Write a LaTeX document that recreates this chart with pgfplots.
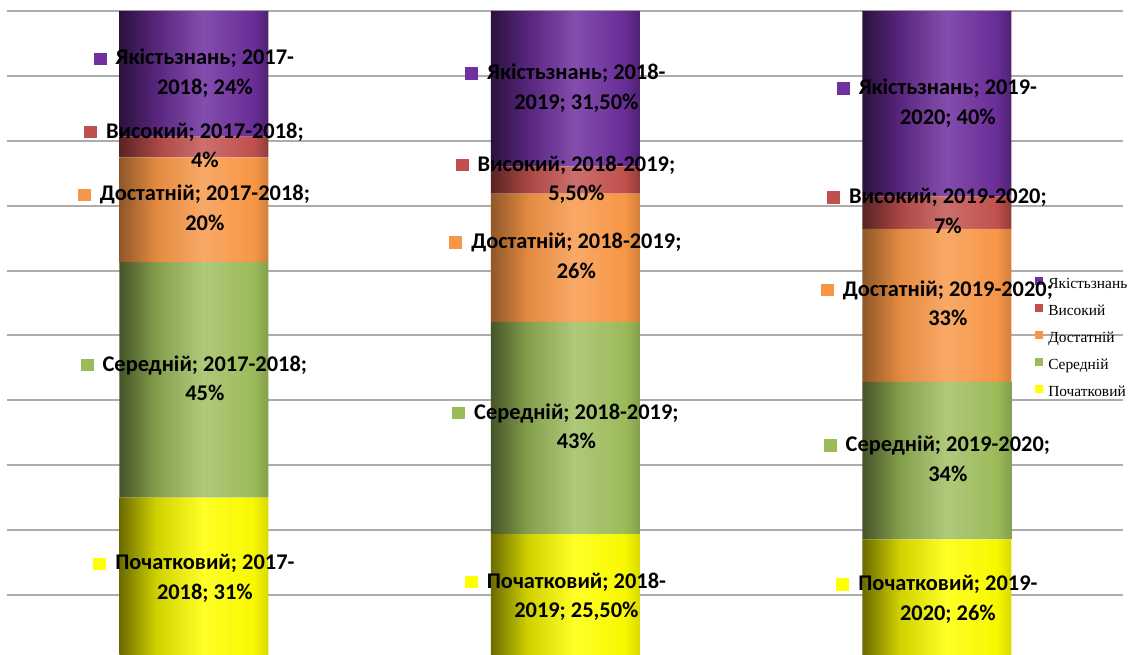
\documentclass[border=0pt]{standalone}
\usepackage{pgfplots}
\pgfplotsset{compat=1.18}
\usepackage{pgfplotstable}
\usepackage{fontspec}
\setmainfont{Carlito}
\newfontfamily\tnr{Liberation Serif}
\usetikzlibrary{calc}

% flat colours (markers, legend)
\definecolor{cQ}{HTML}{7030A0}
\definecolor{cV}{HTML}{C0504D}
\definecolor{cD}{HTML}{F79646}
\definecolor{cS}{HTML}{9BBB59}
\definecolor{cP}{HTML}{FFFF00}

% one horizontal shading spans the three bars of a series (path bbox -> 25bp..75bp),
% so the cylinder profile is repeated at each bar position
\newcommand\cyl[6]{%
  \pgfdeclarehorizontalshading{#1}{100bp}{%
    color(0bp)=(#2); color(25bp)=(#2); color(27.09bp)=(#3); color(29.68bp)=(#4); color(32.52bp)=(#5); color(33.35bp)=(#6);
    color(45.82bp)=(#2); color(47.91bp)=(#3); color(50.50bp)=(#4); color(53.34bp)=(#5); color(54.18bp)=(#6);
    color(66.65bp)=(#2); color(68.74bp)=(#3); color(71.33bp)=(#4); color(74.17bp)=(#5); color(75bp)=(#6); color(100bp)=(#6)}}
\cyl{shQ}{black!62!cQ}{black!22!cQ}{white!14!cQ}{black!6!cQ}{black!30!cQ}
\cyl{shV}{black!55!cV}{black!12!cV}{white!18!cV}{cV}{black!25!cV}
\cyl{shD}{black!42!cD}{black!8!cD}{white!18!cD}{cD}{black!15!cD}
\cyl{shS}{black!55!cS}{black!15!cS}{white!20!cS}{cS}{black!15!cS}
\cyl{shP}{black!58!cP}{black!18!cP}{white!15!cP}{black!3!cP}{black!15!cP}

% raw values (%) and the label texts
\pgfplotstableread{
x ya yb P S D V Q lP lS lD lV lQ
0 2017 2018 31 45 20 4 24 31 45 20 4 24
1 2018 2019 25.5 43 26 5.5 31.5 25,50 43 26 5,50 31,50
2 2019 2020 26 34 33 7 40 26 34 33 7 40
}\marks

\newcommand\tot{(\thisrow{P}+\thisrow{S}+\thisrow{D}+\thisrow{V}+\thisrow{Q})}
\newcommand\yr[1]{\pgfmathprintnumber[fixed,precision=0,1000 sep={},assume math mode=true]{#1}}
\newcommand\lab[3]{\textcolor{#1}{\rule{6.5pt}{6.2pt}}\hspace{4.5pt}\begin{tabular}[t]{@{}c@{}}#2\\#3\end{tabular}}

\pgfplotsset{
  seg/.style={
    shade, shading=sh#1, draw=none,
    point meta=explicit symbolic,
    visualization depends on={\thisrow{ya} \as \yrA},
    visualization depends on={\thisrow{yb} \as \yrB},
    legend image code/.code={\pgfsetfillcolor{c#1}%
      \pgfpathrectangle{\pgfpoint{0pt}{-0.25pt}}{\pgfpoint{4pt}{4pt}}\pgfusepath{fill}},
  },
}

\begin{document}
\begin{tikzpicture}
\begin{axis}[
    scale only axis,
    width=558pt, height=327.5pt,
    ybar stacked, bar width=74.5pt,
    xmin=-0.503, xmax=2.501,
    ymin=0.755, ymax=101.69,
    xtick=\empty,
    ytick={10,20,30,40,50,60,70,80,90,100},
    yticklabels={},
    ymajorgrids,
    grid style={draw=gray!65, line width=1pt},
    axis line style={draw=none},
    major tick length=0pt,
    set layers, mark layer=axis foreground,
    nodes near coords style={anchor=center, inner sep=0pt, text=black,
      font=\bfseries\fontsize{11.2}{14.7}\selectfont},
    reverse legend,
    legend style={draw=none, fill=none, at={(0.921,0.577)}, anchor=north west,
      font=\tnr\fontsize{7.7}{9}\selectfont, inner sep=0pt,
      row sep=6.5pt, column sep=2.5pt,
      nodes={inner sep=0pt, text height=5pt, text depth=1.5pt}},
    legend cell align=left,
]
\addplot[seg=P, nodes near coords={\lab{cP}{Початковий; \yr\yrA-}{\yr\yrB; \pgfplotspointmeta\%}}]
  table[x=x, y expr=\thisrow{P}/\tot*100, meta=lP] {\marks};
\addlegendentry{Початковий}
\addplot[seg=S, nodes near coords={\lab{cS}{Середній; \yr\yrA-\yr\yrB;}{\pgfplotspointmeta\%}}]
  table[x=x, y expr=\thisrow{S}/\tot*100, meta=lS] {\marks};
\addlegendentry{Середній}
\addplot[seg=D, nodes near coords={\lab{cD}{Достатній; \yr\yrA-\yr\yrB;}{\pgfplotspointmeta\%}}]
  table[x=x, y expr=\thisrow{D}/\tot*100, meta=lD] {\marks};
\addlegendentry{Достатній}
\addplot[seg=V, nodes near coords={\lab{cV}{Високий; \yr\yrA-\yr\yrB;}{\pgfplotspointmeta\%}}]
  table[x=x, y expr=\thisrow{V}/\tot*100, meta=lV] {\marks};
\addlegendentry{Високий}
\addplot[seg=Q, nodes near coords={\lab{cQ}{Якістьзнань; \yr\yrA-}{\yr\yrB; \pgfplotspointmeta\%}}]
  table[x=x, y expr=\thisrow{Q}/\tot*100, meta=lQ] {\marks};
\addlegendentry{Якістьзнань}
\end{axis}
\pgfresetboundingbox
\useasboundingbox ($(current axis.south west)+(-3.5pt,0)$) rectangle ($(current axis.north east)+(6.5pt,0)$);
\end{tikzpicture}
\end{document}
